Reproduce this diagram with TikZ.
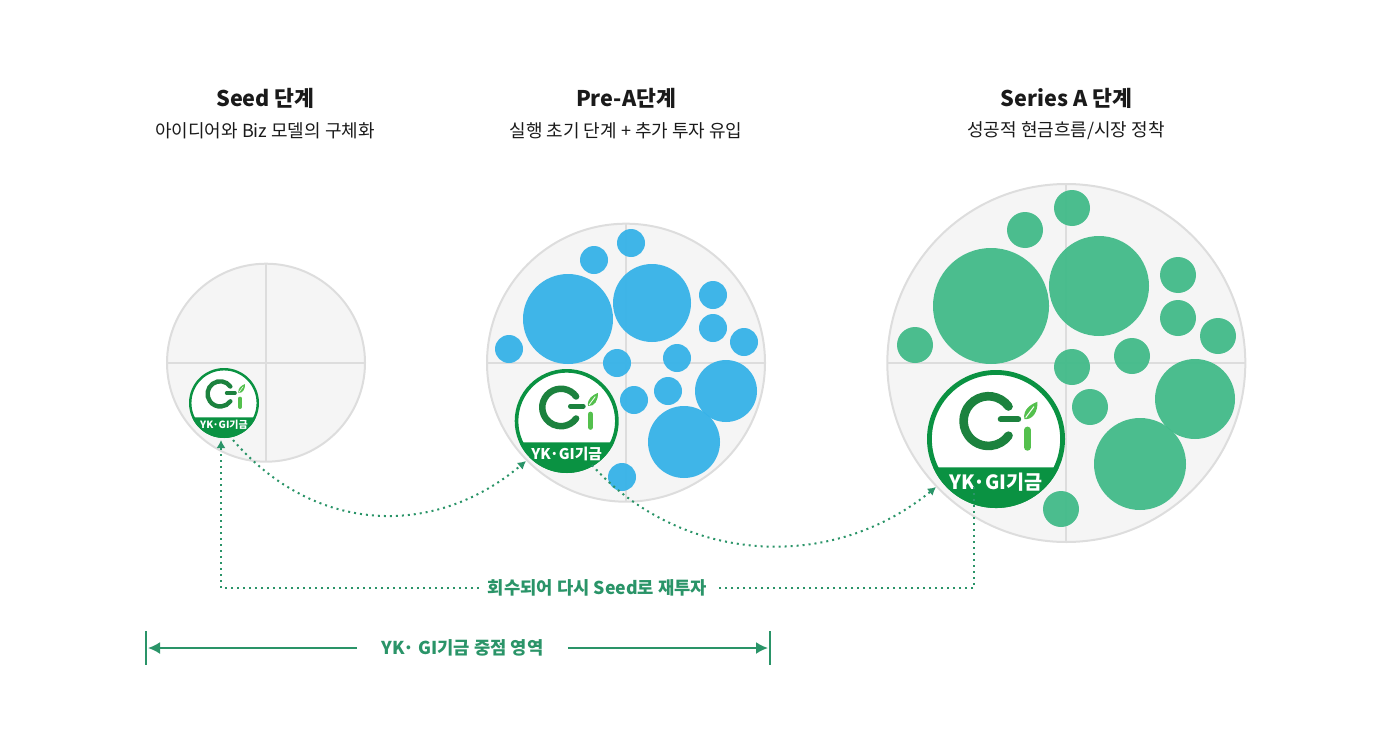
\documentclass[tikz,border=0pt]{standalone}
\usepackage{fontspec}
\setmainfont{Noto Sans CJK KR}
\usetikzlibrary{arrows.meta, calc}
\definecolor{ring}{RGB}{221,221,221}
\definecolor{disc}{RGB}{245,245,245}
\definecolor{skyblue}{RGB}{54,178,232}
\definecolor{mint}{RGB}{66,187,137}
\definecolor{flow}{RGB}{42,148,104}
\definecolor{logogreen}{RGB}{10,146,66}
\definecolor{logodark}{RGB}{28,130,62}
\definecolor{logolight}{RGB}{84,192,77}
\definecolor{inktext}{RGB}{26,26,26}
\tikzset{
    stage/.style={circle, draw=ring, fill=disc, line width=1pt, inner sep=0pt, outer sep=0pt, minimum size=#1*1pt},
    axis/.style={draw=ring, line width=1pt},
    bubble/.style={circle, inner sep=0pt, minimum size=#1*1pt, opacity=0.95},
    title/.style={font=\fontsize{10.8}{13}\selectfont\bfseries, text=inktext, inner sep=0pt},
    subtitle/.style={font=\fontsize{9}{11}\selectfont, text=inktext, inner sep=0pt},
    flowlabel/.style={font=\fontsize{8.85}{10}\selectfont\bfseries, text=flow, inner ysep=0pt},
    dotline/.style={draw=flow, line width=1pt, dash pattern=on 1pt off 2pt, -{Latex[length=4pt,width=4.5pt]}},
    dotplain/.style={draw=flow, line width=1pt, dash pattern=on 1pt off 2pt},
    spanline/.style={draw=flow, line width=1pt, shorten >=1pt, -{Latex[length=6pt,width=6pt]}},
    spantick/.style={draw=flow, line width=1pt}
}
% logo badge: centre x, centre y, radius (in px), node name
\newcommand{\gibadge}[4]{
    \pgfmathsetmacro{\badger}{#3*0.5}
    \pgfmathsetmacro{\badgefont}{#3*0.142}
    \node[circle, inner sep=0pt, outer sep=0pt, minimum size=#3*1pt] (#4) at (#1,#2) {};
    \begin{scope}[shift={(#1,#2)}, x=\badger pt, y=\badger pt]
        \fill[white] (0,0) circle (1);
        \fill[logogreen] (204.2:1) arc[start angle=204.2, end angle=335.8, radius=1] -- cycle;
        \draw[logogreen, line width={0.07*\badger pt}] (0,0) circle (0.965);
        % the G
        \draw[logodark, line width={0.125*\badger pt}, line cap=round] (-0.11,0.26) ++(36:0.36) arc[start angle=36, end angle=324, radius=0.36];
        \draw[logodark, line width={0.09*\badger pt}, line cap=round] (0.07,0.285) -- (0.32,0.285);
        % the i with its leaf
        \draw[logolight, line width={0.1*\badger pt}, line cap=round] (0.457,0.13) -- (0.457,-0.12);
        \fill[logolight] (0.41,0.29) .. controls (0.39,0.43) and (0.5,0.5) .. (0.6,0.54) .. controls (0.61,0.4) and (0.53,0.27) .. cycle;
        \draw[white, line width={0.015*\badger pt}] (0.43,0.31) -- (0.55,0.47);
        \node[text=white, inner sep=0pt, font=\fontsize{\badgefont}{\badgefont}\selectfont\bfseries] (#4text) at (0,-0.63) {YK·GI기금};
    \end{scope}
}

\begin{document}
\begin{tikzpicture}[x=0.5pt, y=-0.5pt]
    \useasboundingbox (0,0) rectangle (1400,733);

    % Titulos
    \node[title] (seedtitle) at (265.5,98) {Seed 단계};
    \node[subtitle] (seedsub) at (265,131) {아이디어와 Biz 모델의 구체화};
    \node[title] (pretitle) at (626,98) {Pre-A단계};
    \node[subtitle] (presub) at (626,131) {실행 초기 단계 + 추가 투자 유입};
    \node[title] (seriestitle) at (1066.5,98) {Series A 단계};
    \node[subtitle] (seriessub) at (1066,131) {성공적 현금흐름/시장 정착};

    % Circulos
    \node[stage=99] (seedring) at (266,362.7) {};
    \draw[axis] (seedring.west) -- (seedring.east);
    \draw[axis] (seedring.north) -- (seedring.south);

    \node[stage=139] (prering) at (626,362.7) {};
    \draw[axis] (prering.west) -- (prering.east);
    \draw[axis] (prering.north) -- (prering.south);

    \node[stage=179] (seriesring) at (1066.3,363) {};
    \draw[axis] (seriesring.west) -- (seriesring.east);
    \draw[axis] (seriesring.north) -- (seriesring.south);

    % Burbujas
    \foreach \bx/\by/\br [count=\i] in {631/243/14, 594/260/14, 568/319/45, 652/303/39, 713/295/14, 713/328/14, 744/342/14, 509/349/14, 617/363/14, 677/358/14, 668/391/14, 634/400/14, 726/391/31, 684/442/36, 622/477/14}
        \node[bubble=\br, fill=skyblue] (pre\i) at (\bx,\by) {};

    \foreach \bx/\by/\br [count=\i] in {1072/208/18, 1025/230/18, 991/306/58, 1099/286/50, 1178/275/18, 1178/318/18, 1218/336/18, 915/345/18, 1072/367/18, 1132/356/18, 1090/407/18, 1195/399/40, 1140/464/46, 1061/509/18}
        \node[bubble=\br, fill=mint] (series\i) at (\bx,\by) {};

    % Logos
    \gibadge{224}{403}{35}{seedlogo}
    \gibadge{566.7}{421}{52}{prelogo}
    \gibadge{996}{439}{69}{serieslogo}

    % Flechas punteadas
    \coordinate (seedout) at (233,440);
    \coordinate (seedin) at (221,440);
    \coordinate (prein) at (526,461);
    \coordinate (preout) at (592,465);
    \coordinate (seriesin) at (936,487);
    \coordinate (seriesout) at (974,487);
    \draw[dotline] (seedout) .. controls (315,535) and (435,538) .. (prein);
    \draw[dotline] (preout) .. controls (680,563) and (830,574) .. (seriesin);

    \node[flowlabel, inner xsep=4.5pt] (backlabel) at (597.5,588) {회수되어 다시 Seed로 재투자};
    \draw[dotplain] (seriesout) |- (backlabel.east);
    \draw[dotline] (backlabel.west) -| (seedin);

    % Zona de enfoque
    \coordinate (spanleft) at (146,648);
    \coordinate (spanright) at (770,648);
    \draw[spantick] ($(spanleft)+(0,-17)$) -- ($(spanleft)+(0,17)$);
    \draw[spantick] ($(spanright)+(0,-17)$) -- ($(spanright)+(0,17)$);
    \node[flowlabel, inner xsep=12pt] (spanlabel) at (462.5,648) {YK· GI기금 중점 영역};
    \draw[spanline] (spanlabel.west) -- (spanleft);
    \draw[spanline] (spanlabel.east) -- (spanright);
\end{tikzpicture}
\end{document}
